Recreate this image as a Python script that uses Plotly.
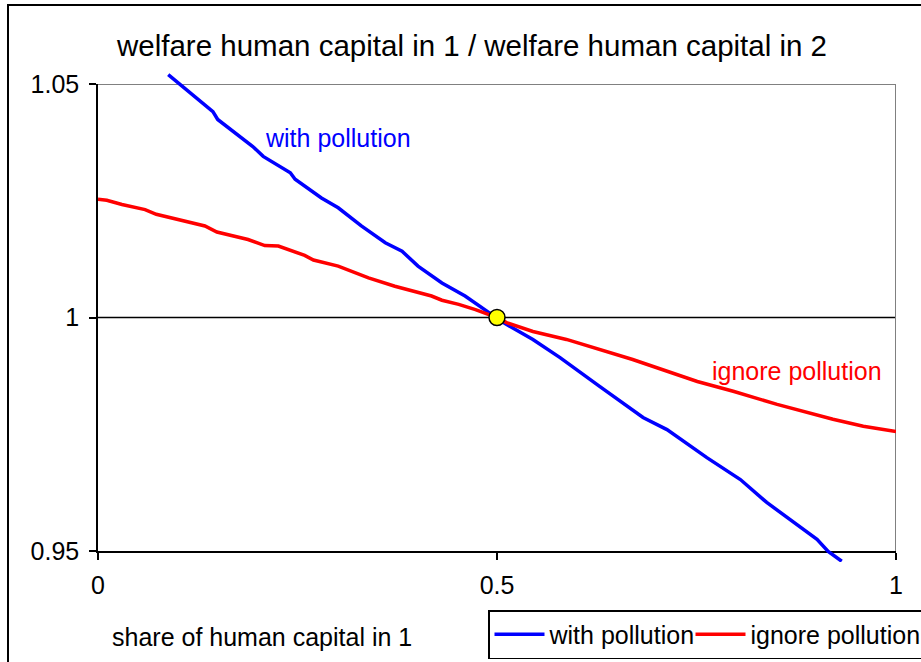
import plotly.graph_objects as go

# values
share_with = [0.088, 0.137, 0.144, 0.150, 0.194, 0.207, 0.241, 0.247, 0.280, 0.301,
              0.330, 0.360, 0.381, 0.401, 0.431, 0.460, 0.485, 0.500, 0.508, 0.545,
              0.579, 0.629, 0.683, 0.713, 0.763, 0.805, 0.838, 0.901, 0.915, 0.932]
ratio_with = [1.0520, 1.0452, 1.0441, 1.0424, 1.0366, 1.0345, 1.0310, 1.0296, 1.0256, 1.0235,
              1.0196, 1.0160, 1.0142, 1.0110, 1.0074, 1.0046, 1.0017, 1.0000, 0.9989, 0.9953,
              0.9914, 0.9852, 0.9786, 0.9760, 0.9700, 0.9653, 0.9604, 0.9525, 0.9499, 0.9478]

share_ignore = [0.000, 0.011, 0.030, 0.059, 0.073, 0.134, 0.149, 0.188, 0.209, 0.226,
                0.259, 0.270, 0.301, 0.339, 0.372, 0.418, 0.431, 0.452, 0.473, 0.489,
                0.500, 0.512, 0.545, 0.587, 0.629, 0.670, 0.751, 0.796, 0.851, 0.921,
                0.959, 1.000]
ratio_ignore = [1.0253, 1.0251, 1.0242, 1.0231, 1.0221, 1.0196, 1.0183, 1.0167, 1.0154, 1.0153,
                1.0133, 1.0123, 1.0110, 1.0085, 1.0067, 1.0046, 1.0037, 1.0028, 1.0017, 1.0006,
                1.0000, 0.9989, 0.9970, 0.9953, 0.9931, 0.9910, 0.9863, 0.9842, 0.9814, 0.9782,
                0.9767, 0.9756]

cross_x = [0.5]
cross_y = [1.0]

x_ticks = [0, 0.5, 1]
y_ticks = [0.95, 1, 1.05]
x_range = [0, 1]
y_range = [0.95, 1.05]

W, H = 921, 662
ML, MR, MT, MB = 98, 25, 70, 100
PW, PH = W - ML - MR, H - MT - MB
FONT = 'Arial, Liberation Sans, sans-serif'

# the framed axes sit inside a slightly taller area so the curves can run past the frame (like excel)
frame_top, frame_bottom = 84, 551
d0 = (H - MB - frame_bottom) / PH
d1 = (H - MB - frame_top) / PH
span = (y_range[1] - y_range[0]) / (d1 - d0)
y2_range = [y_range[0] - d0 * span, y_range[0] - d0 * span + span]


def px(xp):
    return (xp - ML) / PW


def py(yp):
    return (H - MB - yp) / PH


fig = go.Figure()
fig.add_trace(go.Scatter(x=share_with, y=ratio_with, mode='lines', name='with pollution',
                         line=dict(color='#0000ff', width=3.5), xaxis='x', yaxis='y2',
                         legendwidth=136))
fig.add_trace(go.Scatter(x=share_ignore, y=ratio_ignore, mode='lines', name='ignore pollution',
                         line=dict(color='#ff0000', width=3.5), xaxis='x', yaxis='y2',
                         legendwidth=240))
fig.add_trace(go.Scatter(x=cross_x, y=cross_y, mode='markers', showlegend=False,
                         marker=dict(color='#ffff00', size=16, line=dict(color='black', width=1.5)),
                         xaxis='x', yaxis='y2'))

fig.update_layout(
    width=W, height=H,
    margin=dict(l=ML, r=MR, t=MT, b=MB, autoexpand=False),
    paper_bgcolor='white', plot_bgcolor='rgba(0,0,0,0)',
    font=dict(family=FONT, size=25, color='black'),
    title=dict(text='welfare human capital in 1 / welfare human capital in 2',
               font=dict(size=29.5, color='black'),
               x=472 / W, xanchor='center', xref='container',
               y=1 - 46 / H, yanchor='middle', yref='container'),
    xaxis=dict(range=x_range, tickvals=x_ticks, ticktext=['0', '0.5', '1'],
               showgrid=False, zeroline=False, showline=True, linecolor='black', linewidth=1.5,
               ticks='outside', ticklen=7, tickwidth=1.5, tickcolor='black',
               ticklabelstandoff=4, anchor='y'),
    yaxis=dict(range=y_range, domain=[d0, d1], tickvals=y_ticks, ticktext=['0.95', '1', '1.05'],
               showgrid=False, zeroline=False, showline=True, linecolor='black', linewidth=1.5,
               ticks='outside', ticklen=7, tickwidth=1.5, tickcolor='black',
               ticklabelstandoff=5, anchor='x'),
    yaxis2=dict(range=y2_range, domain=[0, 1], visible=False, showgrid=False,
                zeroline=False, anchor='x'),
    legend=dict(orientation='h', x=px(488), y=py(610), xanchor='left', yanchor='top',
                bordercolor='black', borderwidth=1.5, bgcolor='white',
                font=dict(size=25), itemwidth=50, tracegroupgap=0,
                entrywidthmode='pixels'),
    showlegend=True,
)

# reference line at 1 and the grey top/right edges of the plot frame
fig.add_shape(type='line', xref='x', yref='y', x0=0, x1=1, y0=1, y1=1,
              line=dict(color='black', width=1.5), layer='below')
fig.add_shape(type='line', xref='x', yref='y', x0=0, x1=1, y0=1.05, y1=1.05,
              line=dict(color='#808080', width=2), layer='below')
fig.add_shape(type='line', xref='x', yref='y', x0=1, x1=1, y0=0.95, y1=1.05,
              line=dict(color='#808080', width=2), layer='below')

# outer chart border (runs off the right and bottom of the picture)
fig.add_shape(type='rect', xref='paper', yref='paper',
              x0=px(8), x1=px(940), y0=py(680), y1=py(5),
              line=dict(color='black', width=2), fillcolor='rgba(0,0,0,0)', layer='below')

fig.add_annotation(x=0.207, y=1.0385, xref='x', yref='y', text='with pollution',
                   showarrow=False, xanchor='left', yanchor='middle',
                   font=dict(color='#0000ff', size=25))
fig.add_annotation(x=0.767, y=0.98865, xref='x', yref='y', text='ignore pollution',
                   showarrow=False, xanchor='left', yanchor='middle',
                   font=dict(color='#ff0000', size=25))
fig.add_annotation(x=px(110), y=py(637), xref='paper', yref='paper',
                   text='share of human capital in 1', showarrow=False,
                   xanchor='left', yanchor='middle', font=dict(size=25))

# drop the default page margin so the figure sits at the window's corner
fig.write_html("out.html", config={'displayModeBar': False},
               post_script="document.body.style.margin='0';")
